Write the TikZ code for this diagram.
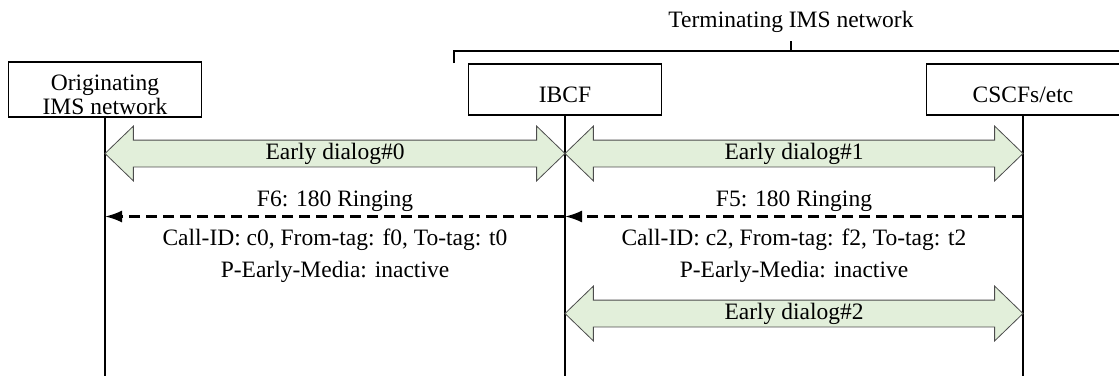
\documentclass[tikz,border=0pt]{standalone}
\usepackage{fontspec}
\setmainfont{Liberation Serif}
\usetikzlibrary{shapes.arrows,arrows.meta,positioning}
\definecolor{dlggreen}{HTML}{E2EFDA}
\begin{document}
\begin{tikzpicture}[x=1pt,y=-1pt,
font=\fontsize{23.5}{24}\selectfont,
entity/.style ={rectangle, draw, line width=1.9pt,
  minimum width=193pt, minimum height=51pt, align=center,
  text height=25.6pt, text depth=0pt
},
dialog/.style ={double arrow, draw=black!70, fill=dlggreen,
  line width=0.8pt, double arrow head extend=14pt,
  double arrow tip angle=88, minimum width=54pt,
  text height=16pt, text depth=5pt, inner ysep=2.5pt, inner xsep=0pt
},
lifeline/.style ={line width=1.9pt},
msg/.style ={line width=2.2pt, dash pattern=on 11pt off 6pt,
  -{Latex[length=17pt,width=12pt]}
},
brace/.style ={line width=1.2pt},
lbl/.style ={inner sep=0pt, anchor=base}]
\useasboundingbox (0,0) rectangle (1119,376);

\node (term) [lbl] at (791,27) {Terminating IMS network};
\draw[brace] (454,63) |- (787,51) -| (791,41);
\draw[brace] (1128,63) |- (795,51) -| (791,41);

\node (orig) at (105,89.5) [entity, text height=49pt, text depth=0pt] {Originating\\IMS network};
\node (ibcf) at (565,89.5) [entity] {IBCF};
\node (cscf) at (1023,89.5) [entity] {CSCFs/etc};

\coordinate (origend) at (105,376);
\coordinate (ibcfend) at (565,376);
\coordinate (cscfend) at (1023,376);
\draw[lifeline] (orig) -- (origend);
\draw[lifeline] (ibcf) -- (ibcfend);
\draw[lifeline] (cscf) -- (cscfend);

\node (dlg0) at (335,153.5) [dialog, minimum height=460pt] {Early dialog\#0};
\node (dlg1) at (794,153.5) [dialog, minimum height=458pt] {Early dialog\#1};

\node (f6) at (335,206) [lbl] {F6: 180 Ringing};
\node (f5) at (794,206) [lbl] {F5: 180 Ringing};
\draw[msg] (cscf |- 0,216.5) -- (ibcf |- 0,216.5);
\draw[msg] (ibcf |- 0,216.5) -- (orig |- 0,216.5);

\node (cid0) at (335,245) [lbl] {Call-ID: c0, From-tag: f0, To-tag: t0};
\node (pem0) at (335,277.5) [lbl] {P-Early-Media: inactive};
\node (cid2) at (794,245) [lbl] {Call-ID: c2, From-tag: f2, To-tag: t2};
\node (pem2) at (794,277.5) [lbl] {P-Early-Media: inactive};

\node (dlg2) at (794,313.5) [dialog, minimum height=458pt] {Early dialog\#2};
\end{tikzpicture}
\end{document}
